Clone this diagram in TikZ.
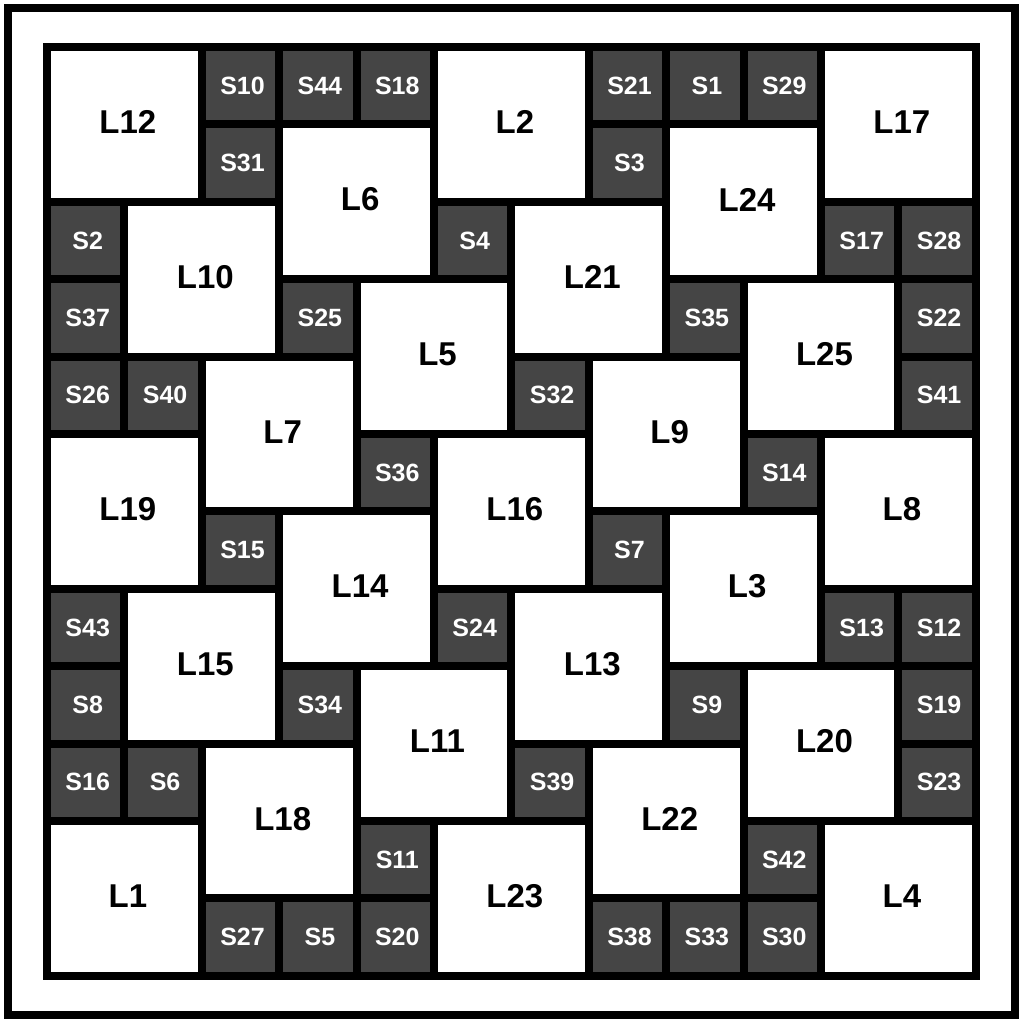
\documentclass[tikz,border=0pt]{standalone}
\usepackage{fontspec}
\setmainfont{Liberation Sans}
\begin{document}
\begin{tikzpicture}[x=1pt,y=-1pt,
  lsq/.style={fill=white,minimum size=146.8pt,inner sep=0pt,outer sep=0pt},
  ltxt/.style={font=\fontsize{33}{33}\selectfont\bfseries,text=black,inner sep=0pt},
  ssq/.style={fill=sqgray,minimum size=69.4pt,inner sep=0pt,outer sep=0pt},
  stxt/.style={font=\fontsize{25}{25}\selectfont\bfseries,text=white,inner sep=0pt}]
\definecolor{sqgray}{HTML}{454545}
\newcommand\Lsq[3]{\node[lsq] (#1) at ({51+77.4*#2+73.4},{51+77.4*#3+73.4}) {};
  \node[ltxt] (#1t) at ([xshift=3.5pt,yshift=2.2pt]#1.center) {#1};}
\newcommand\Ssq[3]{\node[ssq] (#1) at ({51+77.4*#2+34.7},{51+77.4*#3+34.7}) {};
  \node[stxt] (#1t) at ([xshift=2pt]#1.center) {#1};}
\useasboundingbox (0,0) rectangle (1024,1024);
\fill[white] (0,0) rectangle (1024,1024);
\draw[line width=8pt] (8,8) rectangle (1015,1015);
\fill[black] (43,43) rectangle (980,980);
% row 0
\Lsq{L12}{0}{0}\Ssq{S10}{2}{0}\Ssq{S44}{3}{0}\Ssq{S18}{4}{0}
\Lsq{L2}{5}{0}\Ssq{S21}{7}{0}\Ssq{S1}{8}{0}\Ssq{S29}{9}{0}\Lsq{L17}{10}{0}
% row 1
\Ssq{S31}{2}{1}\Lsq{L6}{3}{1}\Ssq{S3}{7}{1}\Lsq{L24}{8}{1}
% row 2
\Ssq{S2}{0}{2}\Lsq{L10}{1}{2}\Ssq{S4}{5}{2}\Lsq{L21}{6}{2}\Ssq{S17}{10}{2}\Ssq{S28}{11}{2}
% row 3
\Ssq{S37}{0}{3}\Ssq{S25}{3}{3}\Lsq{L5}{4}{3}\Ssq{S35}{8}{3}\Lsq{L25}{9}{3}\Ssq{S22}{11}{3}
% row 4
\Ssq{S26}{0}{4}\Ssq{S40}{1}{4}\Lsq{L7}{2}{4}\Ssq{S32}{6}{4}\Lsq{L9}{7}{4}\Ssq{S41}{11}{4}
% row 5
\Lsq{L19}{0}{5}\Ssq{S36}{4}{5}\Lsq{L16}{5}{5}\Ssq{S14}{9}{5}\Lsq{L8}{10}{5}
% row 6
\Ssq{S15}{2}{6}\Lsq{L14}{3}{6}\Ssq{S7}{7}{6}\Lsq{L3}{8}{6}
% row 7
\Ssq{S43}{0}{7}\Lsq{L15}{1}{7}\Ssq{S24}{5}{7}\Lsq{L13}{6}{7}\Ssq{S13}{10}{7}\Ssq{S12}{11}{7}
% row 8
\Ssq{S8}{0}{8}\Ssq{S34}{3}{8}\Lsq{L11}{4}{8}\Ssq{S9}{8}{8}\Lsq{L20}{9}{8}\Ssq{S19}{11}{8}
% row 9
\Ssq{S16}{0}{9}\Ssq{S6}{1}{9}\Lsq{L18}{2}{9}\Ssq{S39}{6}{9}\Lsq{L22}{7}{9}\Ssq{S23}{11}{9}
% row 10
\Lsq{L1}{0}{10}\Ssq{S11}{4}{10}\Lsq{L23}{5}{10}\Ssq{S42}{9}{10}\Lsq{L4}{10}{10}
% row 11
\Ssq{S27}{2}{11}\Ssq{S5}{3}{11}\Ssq{S20}{4}{11}\Ssq{S38}{7}{11}\Ssq{S33}{8}{11}\Ssq{S30}{9}{11}
\end{tikzpicture}
\end{document}
